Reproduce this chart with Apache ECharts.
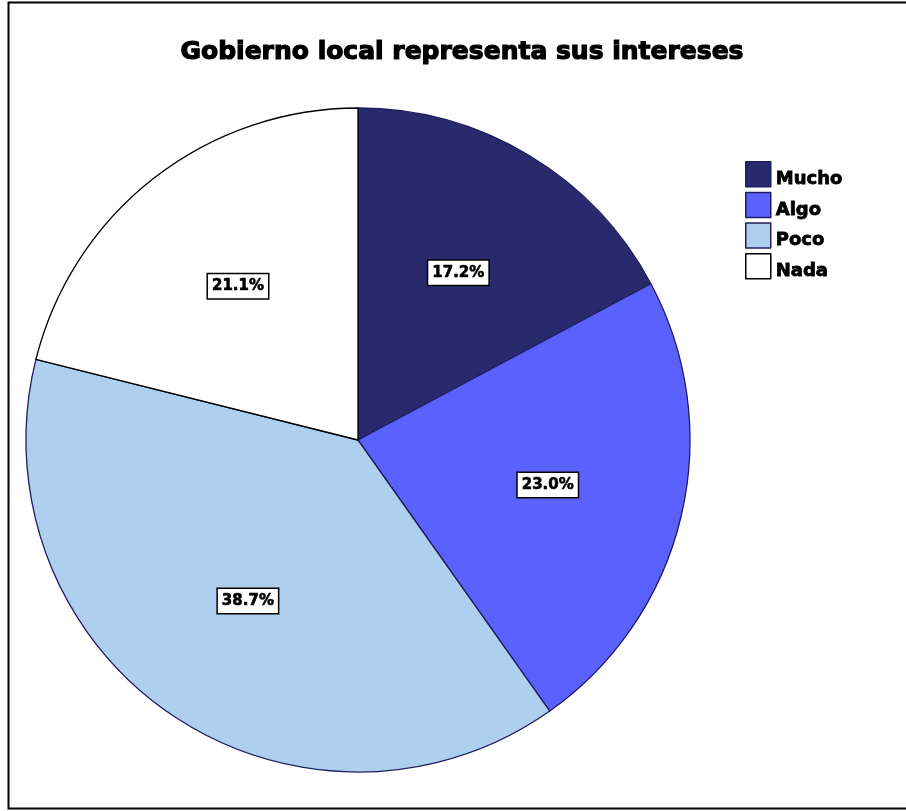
<!DOCTYPE html>
<html>
<head>
<meta charset="utf-8">
<script src="https://cdn.jsdelivr.net/npm/echarts@6/dist/echarts.min.js"></script>
<style>
  html, body { margin: 0; padding: 0; background: #fff; }
  #chart { width: 906px; height: 811px; }
</style>
</head>
<body>
<div id="chart"></div>
<script>
// Survey answers: "Gobierno local representa sus intereses"
const categories = ['Mucho', 'Algo', 'Poco', 'Nada'];
const percentages = [17.2, 23.0, 38.7, 21.1];
const sliceColors = ['#29296e', '#5b61ff', '#aecfee', '#ffffff'];
const sliceBorders = ['#1e1e5e', '#1e1e5e', '#1e1e5e', '#000000'];

const chart = echarts.init(document.getElementById('chart'), null, { renderer: 'canvas' });

const centerPos = [358, 440];
const pieRadius = 332;
const labelRadius = 192;

const sliceData = categories.map((name, i) => ({
  name,
  value: percentages[i],
  itemStyle: { color: sliceColors[i], borderColor: sliceBorders[i] }
}));

const labelData = categories.map((name, i) => ({ name, value: percentages[i] }));

// heavy black type, thickened with a thin outline of the same colour
const heavyText = (size, stroke) => ({
  fontFamily: 'DejaVu Sans',
  fontWeight: 'bold',
  fontSize: size,
  color: '#000',
  textBorderColor: '#000',
  textBorderWidth: stroke
});

chart.setOption({
  animation: false,
  title: {
    text: 'Gobierno local representa sus intereses',
    left: 457,
    top: 35,
    textAlign: 'center',
    textStyle: heavyText(25, 1.2)
  },
  legend: {
    data: categories,
    orient: 'vertical',
    left: 745,
    top: 161,
    padding: 0,
    itemWidth: 25,
    itemHeight: 25,
    itemGap: 3,
    icon: 'rect',
    selectedMode: false,
    formatter: name => '{t|' + name + '}',
    textStyle: {
      rich: {
        t: Object.assign(heavyText(18, 0.8), {
          lineHeight: 14,
          height: 14,
          padding: [10, 0, 0, 0]
        })
      }
    },
    itemStyle: { borderWidth: 1.5 }
  },
  graphic: [{
    type: 'rect',
    shape: { x: 8.5, y: 2.5, width: 920, height: 806 },
    style: { fill: 'none', stroke: '#000', lineWidth: 2 },
    silent: true,
    z: 100
  }],
  series: [
    {
      name: 'slices',
      type: 'pie',
      center: centerPos,
      radius: [0, pieRadius],
      startAngle: 90,
      clockwise: true,
      label: { show: false },
      labelLine: { show: false },
      itemStyle: { borderWidth: 1.3 },
      emphasis: { disabled: true },
      data: sliceData
    },
    {
      name: 'labels',
      type: 'pie',
      center: centerPos,
      radius: [0, labelRadius * 2],
      startAngle: 90,
      clockwise: true,
      silent: true,
      legendHoverLink: false,
      itemStyle: { color: 'rgba(0,0,0,0)', borderWidth: 0 },
      emphasis: { disabled: true },
      label: Object.assign(heavyText(15, 0.6), {
        show: true,
        position: 'inside',
        formatter: p => p.value.toFixed(1) + '%',
        backgroundColor: '#fff',
        borderColor: '#000',
        borderWidth: 1.5,
        padding: [5, 4, 4, 4]
      }),
      labelLine: { show: false },
      data: labelData
    }
  ]
});
</script>
</body>
</html>
